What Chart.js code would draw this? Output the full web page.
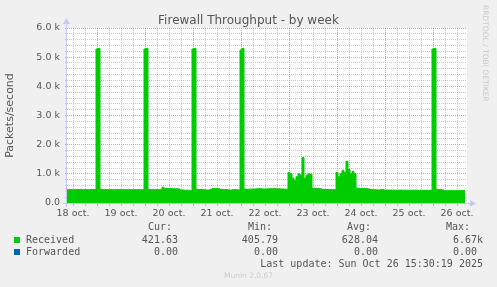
<!DOCTYPE html>
<html><head><meta charset="utf-8">
<script src="https://cdn.jsdelivr.net/npm/chart.js@4/dist/chart.umd.min.js"></script>
<style>
html,body{margin:0;padding:0;background:#f0f0f0;overflow:hidden}
#wrap{position:relative;width:497px;height:287px;background:#f0f0f0}
canvas{position:absolute;left:0;top:0}
.title{position:absolute;left:0;top:13px;width:497px;text-align:center;font-family:"DejaVu Sans",sans-serif;font-size:12px;line-height:14px;color:#555}
.m{position:absolute;font-family:"DejaVu Sans Mono",monospace;font-size:10px;line-height:12px;color:#555;white-space:pre}
.sq{position:absolute;width:6px;height:6px}
.rrd{position:absolute;left:481px;top:5px;writing-mode:vertical-rl;font-family:"DejaVu Sans",sans-serif;font-size:7.5px;line-height:9px;color:#cacaca;white-space:pre}
.munin{position:absolute;left:0;top:271px;width:497px;text-align:center;font-family:"DejaVu Sans",sans-serif;font-size:7.5px;line-height:9px;color:#cccccc}
</style></head>
<body><div id="wrap"><canvas id="c" width="497" height="287"></canvas>
<div class="title" id="title"></div>
<div class="rrd">RRDTOOL / TOBI OETIKER</div>
<div id="legend"></div>
<div class="munin">Munin 2.0.67</div>
</div>
<script>
// ---- data ----
const chartTitle = 'Firewall Throughput - by week';
const yAxisTitle = 'Packets/second';
const firstHour = 9;          // hours since 18 oct 00:00 of first sample
const lastHour = 209;         // end of the time window
const dayLabels = ['18 oct.','19 oct.','20 oct.','21 oct.','22 oct.','23 oct.','24 oct.','25 oct.','26 oct.'];
const dayLabelHours = [12,36,60,84,108,132,156,180,204];
const seriesNames = ['Received','Forwarded'];
const seriesColors = ['#00CC00','#0066B3'];
// hourly samples, packets/second
const received = [
 455,458,460,457,455,459,461,458,456,460,457,455,458,460,
 460,
 5280,5300,470,
 458,456,455,457,459,456,454,455,457,458,456,455,457,456,454,455,457,456,455,454,456,
 5280,5300,470,
 460,458,457,459,456,458,
 540,500,495,490,500,490,485,490,480,450,445,440,440,438,425,
 5280,5300,470,
 465,460,458,455,445,445,470,495,500,495,490,470,465,462,460,450,440,455,460,455,450,
 5250,5300,480,
 470,472,475,478,480,485,490,488,480,478,482,485,488,490,492,488,485,480,478,475,472,
 1050,1000,850,780,900,1000,950,1560,850,950,1000,980,
 500,505,500,495,490,470,465,462,460,458,456,455,
 1050,900,1000,1120,1050,1430,1150,1000,1080,1000,
 510,505,500,498,495,490,480,465,455,452,450,448,455,460,
 445,444,443,442,441,440,440,441,442,440,439,438,437,438,439,438,437,436,437,436,435,436,435,434,
 5280,5300,470,
 465,460,445,425,424,423,422,421,422,423,424,425,422,430
];
const forwarded = [
 0,0,0,0,0,0,0,0,0,0,0,0,0,0,0,0,0,0,0,0,
 0,0,0,0,0,0,0,0,0,0,0,0,0,0,0,0,0,0,0,0,
 0,0,0,0,0,0,0,0,0,0,0,0,0,0,0,0,0,0,0,0,
 0,0,0,0,0,0,0,0,0,0,0,0,0,0,0,0,0,0,0,0,
 0,0,0,0,0,0,0,0,0,0,0,0,0,0,0,0,0,0,0,0,
 0,0,0,0,0,0,0,0,0,0,0,0,0,0,0,0,0,0,0,0,
 0,0,0,0,0,0,0,0,0,0,0,0,0,0,0,0,0,0,0,0,
 0,0,0,0,0,0,0,0,0,0,0,0,0,0,0,0,0,0,0,0,
 0,0,0,0,0,0,0,0,0,0,0,0,0,0,0,0,0,0,0,0,
 0,0,0,0,0,0,0,0,0,0,0,0,0,0,0,0,0,0,0,0
];
const curValues = [421.63, 0];
const minValues = [405.79, 0];
const avgValues = [628.04, 0];
const maxValues = [6670, 0];
const statHeaders = ['Cur:','Min:','Avg:','Max:'];
const lastUpdate = 'Last update: Sun Oct 26 15:30:19 2025';

// ---- text ----
document.getElementById('title').textContent = chartTitle;
function fmt(v){ return v >= 1000 ? (v/1000).toFixed(2)+'k' : v.toFixed(2)+' '; }
const leg = document.getElementById('legend');
function addText(txt, top, opts){
  const d = document.createElement('div'); d.className='m'; d.textContent = txt;
  d.style.top = top+'px';
  if (opts.left!==undefined) d.style.left = opts.left+'px';
  if (opts.rightEdge!==undefined) d.style.right = (497-opts.rightEdge)+'px';
  leg.appendChild(d);
}
const headerRight = [172,272,371,470];
const valueRight = [184,284,384,483];
const rowTops = [233.5,245.5];
statHeaders.forEach((h,i)=>addText(h,220.5,{rightEdge:headerRight[i]}));
seriesNames.forEach((n,r)=>{
  const sq=document.createElement('div'); sq.className='sq'; sq.style.left='14px';
  sq.style.top=(rowTops[r]+3.5)+'px'; sq.style.background=seriesColors[r]; leg.appendChild(sq);
  addText(n,rowTops[r],{left:26});
  [curValues,minValues,avgValues,maxValues].forEach((arr,i)=>addText(fmt(arr[r]),rowTops[r],{rightEdge:valueRight[i]}));
});
addText(lastUpdate,257.5,{rightEdge:483});

// ---- chart ----
const toPts = arr => arr.map((v,i)=>({x:firstHour+i, y:v}));
const MAJOR='rgba(222,90,90,0.6)', MINOR='rgba(150,150,150,0.5)', AXIS='#C4CAF2';
const decor = {
  id:'decor',
  beforeDraw(chart){
    const {ctx, chartArea:a} = chart;
    ctx.save(); ctx.fillStyle='#ffffff';
    ctx.fillRect(a.left,a.top,a.right-a.left,a.bottom-a.top); ctx.restore();
  },
  afterDatasetsDraw(chart){
    const {ctx, chartArea:a} = chart;
    ctx.save(); ctx.strokeStyle=AXIS; ctx.fillStyle=AXIS; ctx.lineWidth=1;
    const x0=a.left-0.5, y0=a.bottom+0.5;
    ctx.beginPath(); ctx.moveTo(x0,a.bottom+4); ctx.lineTo(x0,a.top-5); ctx.stroke();
    ctx.beginPath(); ctx.moveTo(a.left-4,y0); ctx.lineTo(a.right+4,y0); ctx.stroke();
    ctx.beginPath(); ctx.moveTo(x0-3.5,a.top-4); ctx.lineTo(x0+3.5,a.top-4); ctx.lineTo(x0,a.top-10); ctx.closePath(); ctx.fill();
    ctx.beginPath(); ctx.moveTo(a.right+3,y0-3.5); ctx.lineTo(a.right+3,y0+3.5); ctx.lineTo(a.right+9,y0); ctx.closePath(); ctx.fill();
    ctx.restore();
  }
};
new Chart(document.getElementById('c'), {
  type:'line',
  data:{ datasets:[
    {label:seriesNames[1], data:toPts(forwarded), borderColor:seriesColors[1], backgroundColor:seriesColors[1], borderWidth:1, pointRadius:0, fill:false, order:2},
    {label:seriesNames[0], data:toPts(received), borderColor:seriesColors[0], backgroundColor:seriesColors[0], borderWidth:1, pointRadius:0, fill:'origin', stepped:'middle', order:1}
  ]},
  options:{
    responsive:false, animation:false, devicePixelRatio:1,
    layout:{padding:{top:28,right:30,left:0,bottom:0}},
    plugins:{legend:{display:false}, title:{display:false}, tooltip:{enabled:false}},
    scales:{
      x:{ type:'linear', min:firstHour, max:lastHour,
        afterFit:s=>{s.height=84;},
        afterBuildTicks:s=>{ const t=[]; for(let h=12; h<lastHour; h+=6) t.push({value:h}); s.ticks=t; },
        border:{display:false, dash:[1,1]},
        grid:{ color:c=>c.tick && c.tick.value%24===0?MAJOR:MINOR, tickColor:c=>c.tick && c.tick.value%24===0?MAJOR:MINOR, tickLength:3, lineWidth:1 },
        ticks:{ autoSkip:false, maxRotation:0, padding:2, color:'#555', font:{family:'DejaVu Sans', size:9.5},
          callback:v=>{ const i=dayLabelHours.indexOf(v); return i>=0?dayLabels[i]:''; } }
      },
      y:{ min:0, max:6000,
        afterFit:s=>{s.width=67;},
        border:{display:false, dash:[1,1]},
        grid:{ color:c=>c.tick && c.tick.value%1000===0?MAJOR:MINOR, tickColor:c=>c.tick && c.tick.value%1000===0?MAJOR:MINOR, tickLength:2, lineWidth:1 },
        ticks:{ stepSize:200, autoSkip:false, padding:5, color:'#555', font:{family:'DejaVu Sans', size:9.5},
          callback:v=> v%1000!==0 ? '' : (v===0?'0.0':(v/1000).toFixed(1)+' k') },
        title:{display:true, text:yAxisTitle, color:'#555', font:{family:'DejaVu Sans', size:11}, padding:{top:4,bottom:4}}
      }
    }
  },
  plugins:[decor]
});
</script></body></html>
